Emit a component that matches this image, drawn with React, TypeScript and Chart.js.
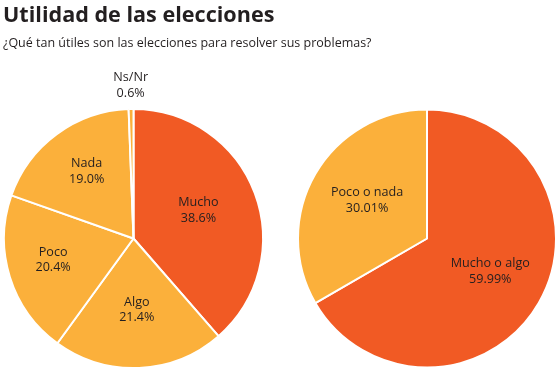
import React, { useEffect, useRef } from "react";
import { Chart, registerables } from "chart.js";

Chart.register(...registerables);

const TITLE = "Utilidad de las elecciones";
const SUBTITLE = "¿Qué tan útiles son las elecciones para resolver sus problemas?";

const detailCategories = ["Mucho", "Algo", "Poco", "Nada", "Ns/Nr"];
const detailValues = [38.6, 21.4, 20.4, 19.0, 0.6];
const detailLabels = ["38.6%", "21.4%", "20.4%", "19.0%", "0.6%"];

const groupedCategories = ["Mucho o algo", "Poco o nada"];
const groupedValues = [59.99, 30.01];
const groupedLabels = ["59.99%", "30.01%"];

const RED = "#F15A24";
const YELLOW = "#FBB03B";
const TEXT = "#231F20";
const FONT = "'Open Sans', sans-serif";

// label placement as a fraction of the radius (or offset outside the pie)
const detailLabelPos = [
  { r: 0.535 },
  { r: 0.58 },
  { r: 0.65 },
  { r: 0.61 },
  { out: 20 },
];
const groupedLabelPos = [{ r: 0.566 }, { r: 0.536 }];

const sliceLabels = {
  id: "sliceLabels",
  afterDatasetsDraw(chart: any, _args: any, opts: any) {
    const ctx = chart.ctx;
    const meta = chart.getDatasetMeta(0);
    const cats = chart.data.labels as string[];
    const texts: string[] = opts.texts || [];
    const pos: any[] = opts.pos || [];
    ctx.save();
    ctx.fillStyle = TEXT;
    ctx.font = `12.6px ${FONT}`;
    ctx.textAlign = "center";
    ctx.textBaseline = "alphabetic";
    meta.data.forEach((arc: any, i: number) => {
      const p = arc.getProps(["x", "y", "startAngle", "endAngle", "outerRadius"], true);
      const mid = (p.startAngle + p.endAngle) / 2;
      const cfg = pos[i] || { r: 0.6 };
      const d = cfg.out !== undefined ? p.outerRadius + cfg.out : p.outerRadius * cfg.r;
      const cx = p.x + Math.cos(mid) * d;
      const cy = p.y + Math.sin(mid) * d;
      ctx.fillText(cats[i], cx, cy - 7.9);
      ctx.fillText(texts[i], cx, cy + 7.9);
    });
    ctx.restore();
  },
};

function usePie(
  ref: React.RefObject<HTMLCanvasElement>,
  labels: string[],
  values: number[],
  colors: string[],
  texts: string[],
  pos: any[],
  padding: any
) {
  useEffect(() => {
    if (!ref.current) return;
    const chart = new Chart(ref.current, {
      type: "pie",
      data: {
        labels,
        datasets: [
          {
            data: values,
            backgroundColor: colors,
            borderColor: "#ffffff",
            borderWidth: 2,
          },
        ],
      },
      options: {
        responsive: false,
        animation: false,
        devicePixelRatio: 1,
        layout: { padding },
        plugins: {
          legend: { display: false },
          tooltip: { enabled: false },
          sliceLabels: { texts, pos },
        } as any,
      },
      plugins: [sliceLabels],
    });
    return () => chart.destroy();
  }, []);
}

export default function App() {
  const leftRef = useRef<HTMLCanvasElement>(null);
  const rightRef = useRef<HTMLCanvasElement>(null);

  useEffect(() => {
    document.body.style.margin = "0";
    document.body.style.background = "#ffffff";
  }, []);

  usePie(
    leftRef,
    detailCategories,
    detailValues,
    [RED, YELLOW, YELLOW, YELLOW, YELLOW],
    detailLabels,
    detailLabelPos,
    { left: 3, top: 108, right: 16, bottom: 2 }
  );
  usePie(
    rightRef,
    groupedCategories,
    groupedValues,
    [RED, YELLOW],
    groupedLabels,
    groupedLabelPos,
    { left: 17, top: 108, right: 2, bottom: 2 }
  );

  return (
    <div style={{ position: "relative", width: 559, height: 371, background: "#fff", overflow: "hidden" }}>
      <canvas ref={leftRef} width={280} height={371} style={{ position: "absolute", left: 0, top: 0, width: 280, height: 371 }} />
      <canvas ref={rightRef} width={279} height={371} style={{ position: "absolute", left: 280, top: 0, width: 279, height: 371 }} />
      <div
        style={{
          position: "absolute",
          left: 3,
          top: 2.5,
          fontFamily: FONT,
          fontWeight: 700,
          fontSize: 21.6,
          lineHeight: "22px",
          color: TEXT,
          whiteSpace: "nowrap",
        }}
      >
        {TITLE}
      </div>
      <div
        style={{
          position: "absolute",
          left: 3,
          top: 36,
          fontFamily: FONT,
          fontSize: 12.5,
          lineHeight: "13px",
          color: TEXT,
          whiteSpace: "nowrap",
        }}
      >
        {SUBTITLE}
      </div>
    </div>
  );
}
